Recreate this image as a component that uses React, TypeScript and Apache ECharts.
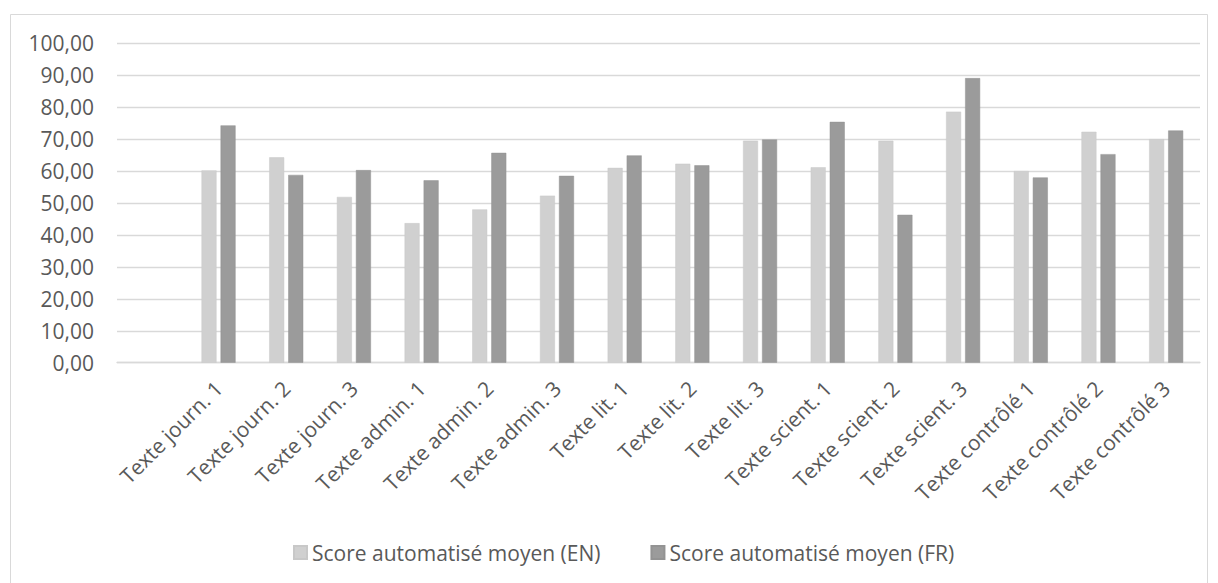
import React, { useEffect, useRef } from "react";
import * as echarts from "echarts";

const categories = [
  "",
  "Texte journ. 1",
  "Texte journ. 2",
  "Texte journ. 3",
  "Texte admin. 1",
  "Texte admin. 2",
  "Texte admin. 3",
  "Texte lit. 1",
  "Texte lit. 2",
  "Texte lit. 3",
  "Texte scient. 1",
  "Texte scient. 2",
  "Texte scient. 3",
  "Texte contrôlé 1",
  "Texte contrôlé 2",
  "Texte contrôlé 3",
];

const scoreEN = [null, 60.2, 64.3, 51.9, 43.7, 48.0, 52.3, 61.0, 62.3, 69.5, 61.2, 69.5, 78.6, 60.0, 72.3, 70.0];
const scoreFR = [null, 74.3, 58.8, 60.3, 57.1, 65.7, 58.5, 64.9, 61.8, 69.9, 75.4, 46.3, 89.1, 58.0, 65.3, 72.7];

const seriesNames = ["Score automatisé moyen (EN)", "Score automatisé moyen (FR)"];

export default function App() {
  const ref = useRef<HTMLDivElement>(null);
  useEffect(() => {
    if (!ref.current) return;
    const chart = echarts.init(ref.current, null, { renderer: "svg" });
    const font = "'Open Sans', sans-serif";
    chart.setOption({
      animation: false,
      backgroundColor: "#ffffff",
      textStyle: { fontFamily: font },
      graphic: [
        {
          type: "rect",
          shape: { x: 10.5, y: 14.5, width: 1197, height: 600 },
          style: { fill: "none", stroke: "#d9d9d9", lineWidth: 1 },
          silent: true,
        },
      ],
      grid: { left: 117, right: 18, top: 43.3, bottom: 220.3, containLabel: false },
      legend: {
        data: seriesNames,
        left: 293,
        top: 542,
        padding: 0,
        itemWidth: 13,
        itemHeight: 13,
        itemGap: 50,
        icon: "rect",
        textStyle: { color: "#595959", fontSize: 21, fontFamily: font },
      },
      xAxis: {
        type: "category",
        data: categories,
        axisTick: { show: false },
        axisLine: { lineStyle: { color: "#d9d9d9", width: 1.3 } },
        axisLabel: {
          interval: 0,
          rotate: 45,
          margin: 22,
          color: "#595959",
          fontSize: 21,
          fontFamily: font,
        },
      },
      yAxis: {
        type: "value",
        min: 0,
        max: 100,
        interval: 10,
        axisLine: { show: false },
        axisTick: { show: false },
        splitLine: { lineStyle: { color: "#d9d9d9", width: 1.3 } },
        axisLabel: {
          margin: 23,
          color: "#595959",
          fontSize: 21,
          fontFamily: font,
          formatter: (v: number) => v.toFixed(2).replace(".", ","),
        },
      },
      series: [
        {
          name: seriesNames[0],
          type: "bar",
          data: scoreEN,
          barWidth: 15,
          barGap: "27%",
          itemStyle: { color: "#d0d0d0", borderColor: "#c8c8c8", borderWidth: 0.5 },
        },
        {
          name: seriesNames[1],
          type: "bar",
          data: scoreFR,
          barWidth: 15,
          barGap: "27%",
          itemStyle: { color: "#9b9b9b", borderColor: "#939393", borderWidth: 0.5 },
        },
      ],
    });
    return () => chart.dispose();
  }, []);
  return <div ref={ref} style={{ width: 1218, height: 583, position: "absolute", left: 0, top: 0 }} />;
}
